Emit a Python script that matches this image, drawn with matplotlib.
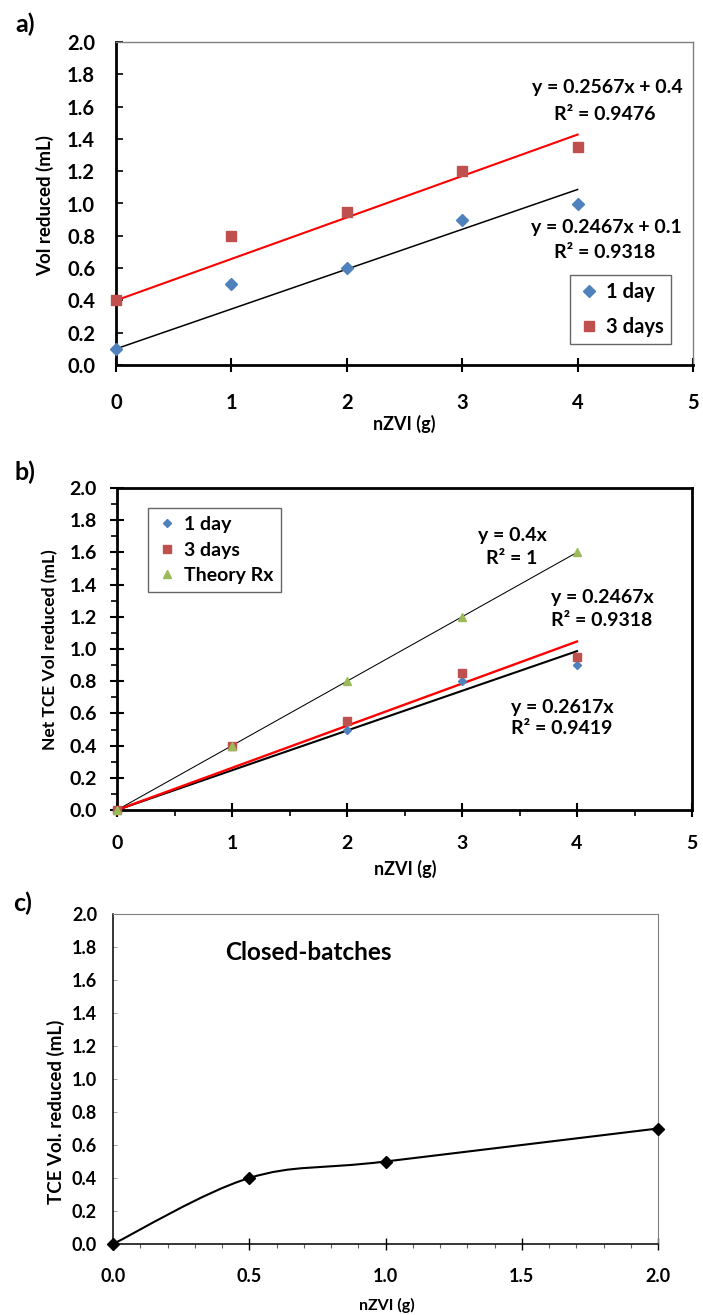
import numpy as np
import matplotlib
matplotlib.use('Agg')
import matplotlib.pyplot as plt
from matplotlib.path import Path
from matplotlib.patches import PathPatch
from matplotlib.ticker import MultipleLocator, FormatStrFormatter

W, H = 703, 1315
plt.rcParams['font.family'] = ['Lato', 'DejaVu Sans']
plt.rcParams['font.weight'] = 'bold'

# ---------------- data ----------------
# panel a
a_x = [0, 1, 2, 3, 4]
a_day1 = [0.1, 0.5, 0.6, 0.9, 1.0]
a_day3 = [0.4, 0.8, 0.95, 1.2, 1.35]
a_fit1 = [0.2467, 0.1]     # slope, intercept
a_fit3 = [0.2567, 0.4]
a_eq1 = ['y = 0.2467x + 0.1', 'R² = 0.9318']
a_eq3 = ['y = 0.2567x + 0.4', 'R² = 0.9476']

# panel b
b_x = [0, 1, 2, 3, 4]
b_day1 = [0.0, 0.4, 0.5, 0.8, 0.9]
b_day3 = [0.0, 0.4, 0.55, 0.85, 0.95]
b_theory = [0.0, 0.4, 0.8, 1.2, 1.6]
b_fit_theory = 0.4
b_fit_red = 0.2617
b_fit_black = 0.2467
b_eq_theory = ['y = 0.4x', 'R² = 1']
b_eq_a = ['y = 0.2467x', 'R² = 0.9318']
b_eq_b = ['y = 0.2617x', 'R² = 0.9419']

# panel c
c_x = [0.0, 0.5, 1.0, 2.0]
c_y = [0.0, 0.4, 0.5, 0.7]

series_labels = ['1 day', '3 days', 'Theory Rx']
BLUE, RED, GREEN = '#4F81BD', '#C0504D', '#9BBB59'

fig = plt.figure(figsize=(W / 100, H / 100), dpi=100)


def rect(l, t, r, b):
    return [l / W, 1 - b / H, (r - l) / W, (b - t) / H]


def ftext(x, y, s, **kw):
    fig.text(x / W, 1 - y / H, s, ha=kw.pop('ha', 'center'), va=kw.pop('va', 'center'),
             fontweight='bold', **kw)


def style_spines(ax, lw_main, lw_other, col_other):
    for s in ['left', 'bottom']:
        ax.spines[s].set_linewidth(lw_main)
        ax.spines[s].set_color('black')
    for s in ['top', 'right']:
        ax.spines[s].set_linewidth(lw_other)
        ax.spines[s].set_color(col_other)


# ---------------- panel a ----------------
ax = fig.add_axes(rect(116, 42, 693, 365))
xs = np.array([min(a_x), max(a_x)])
ax.plot(xs, a_fit1[0] * xs + a_fit1[1], color='black', lw=1.1, zorder=2)
ax.plot(xs, a_fit3[0] * xs + a_fit3[1], color='red', lw=1.5, zorder=2)
ax.plot(a_x, a_day1, 'D', color=BLUE, ms=5.8, ls='none', label=series_labels[0], zorder=3, clip_on=False)
ax.plot(a_x, a_day3, 's', color=RED, ms=6.5, ls='none', label=series_labels[1], zorder=3, clip_on=False)
ax.set_xlim(0, 5)
ax.set_ylim(0, 2.0)
ax.xaxis.set_major_locator(MultipleLocator(1))
ax.yaxis.set_major_locator(MultipleLocator(0.2))
ax.yaxis.set_major_formatter(FormatStrFormatter('%.1f'))
ax.tick_params(axis='x', direction='inout', length=10, width=1.5, labelsize=14.5, pad=15.5)
ax.tick_params(axis='y', direction='in', length=5, width=1.2, labelsize=14.5, pad=15)
style_spines(ax, 2.0, 1.0, '#808080')
ftext(45, 205, 'Vol reduced (mL)', fontsize=13.5, rotation=90)
ftext(404, 424, 'nZVI (g)', fontsize=13)
leg = ax.legend(loc='lower right', bbox_to_anchor=(671 / W, 1 - 344 / H), bbox_transform=fig.transFigure,
                fancybox=False, edgecolor='#404040', fontsize=14.5, handletextpad=0.25, handlelength=1.2,
                labelspacing=0.75, borderpad=0.35, borderaxespad=0, handleheight=0.7)
leg.get_frame().set_linewidth(1.0)
ftext(607, 88, a_eq3[0], fontsize=14)
ftext(605, 115, a_eq3[1], fontsize=14)
ftext(606, 227, a_eq1[0], fontsize=14)
ftext(605, 252, a_eq1[1], fontsize=14)
ftext(25, 24, 'a)', fontsize=18)

# ---------------- panel b ----------------
ax = fig.add_axes(rect(117, 488, 692, 810))
xs = np.array([min(b_x), max(b_x)])
ax.plot(xs, b_fit_theory * xs, color='black', lw=0.75, zorder=2)
ax.plot(xs, b_fit_black * xs, color='black', lw=1.5, zorder=2)
ax.plot(xs, b_fit_red * xs, color='red', lw=1.7, zorder=2)
ax.plot(b_x, b_day1, 'D', color=BLUE, ms=4.2, ls='none', label=series_labels[0], zorder=3, clip_on=False)
ax.plot(b_x, b_day3, 's', color=RED, ms=5.2, ls='none', label=series_labels[1], zorder=3, clip_on=False)
ax.plot(b_x, b_theory, '^', color=GREEN, ms=5.5, ls='none', label=series_labels[2], zorder=3, clip_on=False)
ax.set_xlim(0, 5)
ax.set_ylim(0, 2.0)
ax.xaxis.set_major_locator(MultipleLocator(1))
ax.xaxis.set_minor_locator(MultipleLocator(0.5))
ax.yaxis.set_major_locator(MultipleLocator(0.2))
ax.yaxis.set_minor_locator(MultipleLocator(0.1))
ax.yaxis.set_major_formatter(FormatStrFormatter('%.1f'))
ax.tick_params(axis='x', which='major', direction='inout', length=10, width=1.5, labelsize=14, pad=13)
ax.tick_params(axis='x', which='minor', direction='out', length=4, width=1.2)
ax.tick_params(axis='y', which='major', direction='inout', length=10, width=1.5, labelsize=14, pad=9.5)
ax.tick_params(axis='y', which='minor', direction='out', length=4, width=1.2)
style_spines(ax, 2.0, 2.0, 'black')
ftext(50, 650, 'Net TCE Vol reduced (mL)', fontsize=12.5, rotation=90)
ftext(405, 869, 'nZVI (g)', fontsize=13)
leg = ax.legend(loc='upper left', bbox_to_anchor=(148 / W, 1 - 508 / H), bbox_transform=fig.transFigure,
                fancybox=False, edgecolor='#404040', fontsize=14, handletextpad=0.25, handlelength=1.2,
                labelspacing=0.45, borderpad=0.4, borderaxespad=0)
leg.get_frame().set_linewidth(1.0)
ftext(512, 536, b_eq_theory[0], fontsize=14)
ftext(512, 559, b_eq_theory[1], fontsize=14)
ftext(602, 597, b_eq_a[0], fontsize=14)
ftext(602, 620, b_eq_a[1], fontsize=14)
ftext(562, 707, b_eq_b[0], fontsize=14)
ftext(562, 729, b_eq_b[1], fontsize=14)
ftext(25, 472, 'b)', fontsize=18)

# ---------------- panel c ----------------
ax = fig.add_axes(rect(113, 914, 658, 1244))
pts = np.column_stack([c_x, c_y])
ext = np.vstack([pts[0], pts, pts[-1]])
verts = [tuple(pts[0])]
codes = [Path.MOVETO]
for i in range(len(pts) - 1):
    p0, p1, p2, p3 = ext[i], ext[i + 1], ext[i + 2], ext[i + 3]
    c1 = p1 + (p2 - p0) / 6.0
    c2 = p2 - (p3 - p1) / 6.0
    verts += [tuple(c1), tuple(c2), tuple(p2)]
    codes += [Path.CURVE4, Path.CURVE4, Path.CURVE4]
ax.add_patch(PathPatch(Path(verts, codes), facecolor='none', edgecolor='black', lw=1.5, zorder=2))
ax.plot(c_x, c_y, 'D', color='black', ms=6, ls='none', zorder=3, clip_on=False)
ax.set_xlim(0, 2.0)
ax.set_ylim(0, 2.0)
ax.xaxis.set_major_locator(MultipleLocator(0.5))
ax.xaxis.set_minor_locator(MultipleLocator(0.1))
ax.yaxis.set_major_locator(MultipleLocator(0.2))
ax.xaxis.set_major_formatter(FormatStrFormatter('%.1f'))
ax.yaxis.set_major_formatter(FormatStrFormatter('%.1f'))
ax.tick_params(axis='x', which='major', direction='inout', length=8, width=1.0, labelsize=13, pad=13)
ax.tick_params(axis='x', which='minor', direction='out', length=3, width=0.8, color='#606060')
ax.tick_params(axis='y', which='major', direction='in', length=3, width=0.6, color='#909090', labelsize=13, pad=11.5)
style_spines(ax, 1.1, 0.8, '#808080')
ftext(56, 1112, 'TCE Vol. reduced (mL)', fontsize=13.5, rotation=90)
ftext(387, 1305, 'nZVI (g)', fontsize=11.5)
ftext(308, 952, 'Closed-batches', fontsize=17.5)
ftext(23, 903, 'c)', fontsize=18)

fig.savefig('out.png', dpi=100)
